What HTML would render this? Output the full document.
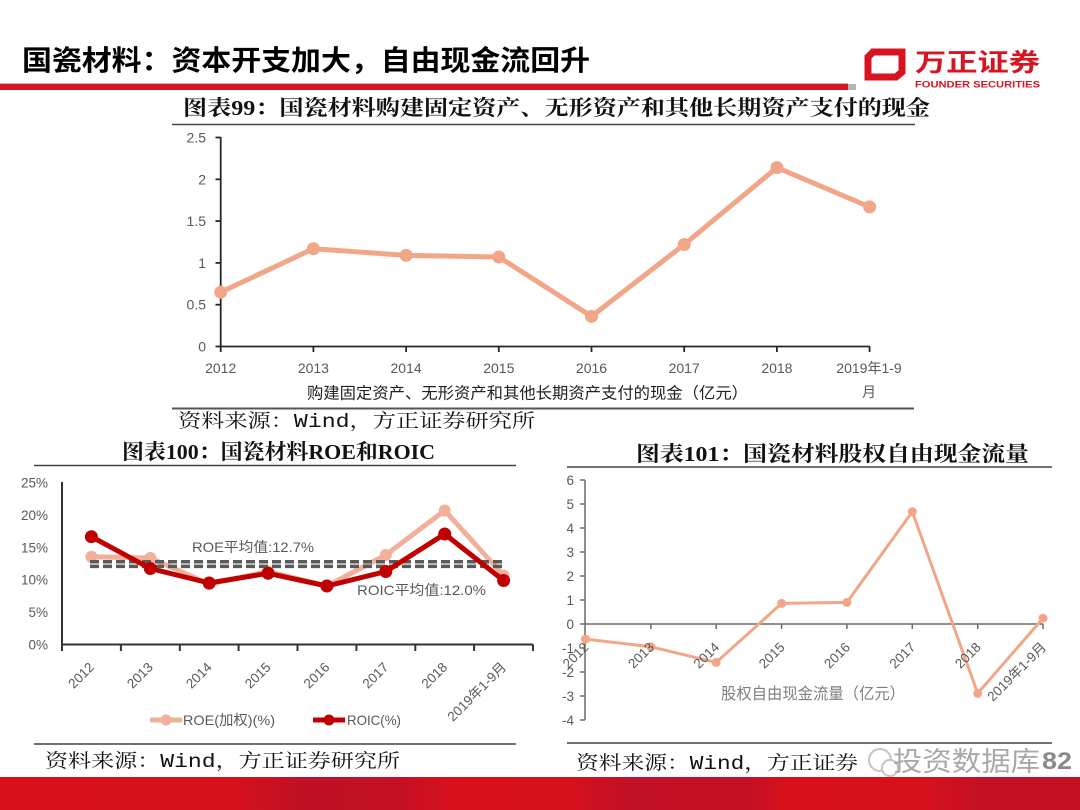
<!DOCTYPE html>
<html><head><meta charset="utf-8">
<style>
html,body{margin:0;padding:0;background:#fff;}
svg{display:block;}
.s{font-family:"Liberation Sans","Noto Sans CJK SC",sans-serif;}
.t{font-family:"Liberation Serif","Noto Serif CJK SC",serif;font-weight:700;}
.src{font-family:"Liberation Mono","Noto Serif CJK SC",serif;}
</style></head>
<body>
<svg width="1080" height="810" viewBox="0 0 1080 810" xmlns="http://www.w3.org/2000/svg">
<defs>
<linearGradient id="rb" x1="0" y1="0" x2="1" y2="0">
<stop offset="0" stop-color="#D9111B"/>
<stop offset="0.22" stop-color="#D5111C"/>
<stop offset="0.28" stop-color="#BF1025"/>
<stop offset="0.37" stop-color="#C41024"/>
<stop offset="0.42" stop-color="#D9111B"/>
<stop offset="0.53" stop-color="#D6111C"/>
<stop offset="0.58" stop-color="#C21026"/>
<stop offset="0.69" stop-color="#C41024"/>
<stop offset="0.73" stop-color="#D8111B"/>
<stop offset="0.86" stop-color="#D6111C"/>
<stop offset="0.91" stop-color="#C31025"/>
<stop offset="1" stop-color="#C51024"/>
</linearGradient>
</defs>
<rect width="1080" height="810" fill="#fff"/>

<!-- Header -->
<text class="s" x="22" y="70" font-size="28" font-weight="700" fill="#000" textLength="568" lengthAdjust="spacingAndGlyphs">国瓷材料：资本开支加大，自由现金流回升</text>
<rect x="0" y="84" width="848" height="6" fill="#D7141F"/>
<rect x="0" y="83" width="848" height="1" fill="#bbb"/>
<rect x="848" y="84" width="8" height="6" fill="#b5b5b5"/>
<!-- Logo -->
<path d="M873,52 L902,52 L902,72 L896,77 L868,77 L868,57 Z" fill="none" stroke="#D7141F" stroke-width="7" stroke-linejoin="miter"/>
<text class="s" x="915" y="71" font-size="25" font-weight="700" fill="#D7141F" textLength="125" lengthAdjust="spacingAndGlyphs">万正证券</text>
<text class="s" x="915" y="87.5" font-size="9.5" font-weight="700" fill="#D7141F" textLength="125" lengthAdjust="spacingAndGlyphs">FOUNDER SECURITIES</text>

<!-- Top chart -->
<text class="t" x="183" y="115" font-size="21" fill="#111" textLength="747" lengthAdjust="spacingAndGlyphs">图表99：国瓷材料购建固定资产、无形资产和其他长期资产支付的现金</text>
<line x1="172" y1="124.5" x2="915" y2="124.5" stroke="#444" stroke-width="1.5"/>
<g stroke="#262626" stroke-width="1.8">
<line x1="220.7" y1="137" x2="220.7" y2="346.5"/>
<line x1="220.7" y1="346.5" x2="870" y2="346.5"/>
<line x1="215.5" y1="346.5" x2="220.7" y2="346.5"/>
<line x1="215.5" y1="304.7" x2="220.7" y2="304.7"/>
<line x1="215.5" y1="262.9" x2="220.7" y2="262.9"/>
<line x1="215.5" y1="221.1" x2="220.7" y2="221.1"/>
<line x1="215.5" y1="179.3" x2="220.7" y2="179.3"/>
<line x1="215.5" y1="137.5" x2="220.7" y2="137.5"/>
<line x1="220.7" y1="346.5" x2="220.7" y2="352"/>
<line x1="313.4" y1="346.5" x2="313.4" y2="352"/>
<line x1="406.1" y1="346.5" x2="406.1" y2="352"/>
<line x1="498.8" y1="346.5" x2="498.8" y2="352"/>
<line x1="591.5" y1="346.5" x2="591.5" y2="352"/>
<line x1="684.2" y1="346.5" x2="684.2" y2="352"/>
<line x1="776.9" y1="346.5" x2="776.9" y2="352"/>
<line x1="869.6" y1="346.5" x2="869.6" y2="352"/>
</g>
<g class="s" font-size="14" fill="#595959" text-anchor="end">
<text x="206" y="351.5">0</text>
<text x="206" y="309.7">0.5</text>
<text x="206" y="267.9">1</text>
<text x="206" y="226.1">1.5</text>
<text x="206" y="184.3">2</text>
<text x="206" y="142.5">2.5</text>
</g>
<g class="s" font-size="14" fill="#595959" text-anchor="middle">
<text x="220.7" y="373">2012</text>
<text x="313.4" y="373">2013</text>
<text x="406.1" y="373">2014</text>
<text x="498.8" y="373">2015</text>
<text x="591.5" y="373">2016</text>
<text x="684.2" y="373">2017</text>
<text x="776.9" y="373">2018</text>
<text x="869" y="373">2019年1-9</text>
<text x="869" y="397">月</text>
</g>
<polyline points="220.7,292.2 313.4,248.7 406.1,255.4 498.8,257 591.5,316.4 684.2,244.5 776.9,167.6 869.6,206.9" fill="none" stroke="#F2A688" stroke-width="5" stroke-linejoin="round"/>
<g fill="#F2A688">
<circle cx="220.7" cy="292.2" r="6.5"/><circle cx="313.4" cy="248.7" r="6.5"/><circle cx="406.1" cy="255.4" r="6.5"/><circle cx="498.8" cy="257" r="6.5"/><circle cx="591.5" cy="316.4" r="6.5"/><circle cx="684.2" cy="244.5" r="6.5"/><circle cx="776.9" cy="167.6" r="6.5"/><circle cx="869.6" cy="206.9" r="6.5"/>
</g>
<text class="s" x="307" y="398.5" font-size="16" fill="#222" textLength="441" lengthAdjust="spacingAndGlyphs">购建固定资产、无形资产和其他长期资产支付的现金（亿元）</text>
<line x1="172" y1="408.5" x2="914" y2="408.5" stroke="#555" stroke-width="2"/>
<text class="src" x="178" y="427" font-size="19" fill="#111" textLength="357" lengthAdjust="spacingAndGlyphs">资料来源：Wind，方正证券研究所</text>

<!-- Bottom-left chart -->
<text class="t" x="122" y="459" font-size="21" fill="#111" textLength="313" lengthAdjust="spacingAndGlyphs">图表100：国瓷材料ROE和ROIC</text>
<line x1="34" y1="465.5" x2="516" y2="465.5" stroke="#444" stroke-width="1.5"/>
<g stroke="#333" stroke-width="2">
<line x1="62" y1="482" x2="62" y2="644.5"/>
<line x1="62" y1="644.5" x2="533" y2="644.5"/>
<line x1="62" y1="644.5" x2="62" y2="651"/>
<line x1="120.9" y1="644.5" x2="120.9" y2="651"/>
<line x1="179.8" y1="644.5" x2="179.8" y2="651"/>
<line x1="238.6" y1="644.5" x2="238.6" y2="651"/>
<line x1="297.5" y1="644.5" x2="297.5" y2="651"/>
<line x1="356.4" y1="644.5" x2="356.4" y2="651"/>
<line x1="415.3" y1="644.5" x2="415.3" y2="651"/>
<line x1="474.1" y1="644.5" x2="474.1" y2="651"/>
<line x1="533" y1="644.5" x2="533" y2="651"/>
</g>
<g class="s" font-size="13.5" fill="#595959" text-anchor="end">
<text x="48" y="649.5">0%</text>
<text x="48" y="617.1">5%</text>
<text x="48" y="584.7">10%</text>
<text x="48" y="552.3">15%</text>
<text x="48" y="519.9">20%</text>
<text x="48" y="487.5">25%</text>
</g>
<g class="s" font-size="13.5" fill="#595959" text-anchor="end">
<text transform="translate(95,668) rotate(-45)">2012</text>
<text transform="translate(153.8,668) rotate(-45)">2013</text>
<text transform="translate(212.7,668) rotate(-45)">2014</text>
<text transform="translate(271.6,668) rotate(-45)">2015</text>
<text transform="translate(330.4,668) rotate(-45)">2016</text>
<text transform="translate(389.3,668) rotate(-45)">2017</text>
<text transform="translate(448.2,668) rotate(-45)">2018</text>
<text transform="translate(507.1,668) rotate(-45)">2019年1-9月</text>
</g>
<polyline points="91.4,556.7 150.3,558 209.2,584 268.1,571.5 326.9,586 385.8,555 444.7,510.5 503.6,575.5" fill="none" stroke="#F2B09A" stroke-width="5" stroke-linejoin="round"/>
<g fill="#F2B09A">
<circle cx="91.4" cy="556.7" r="6"/><circle cx="150.3" cy="558" r="6"/><circle cx="209.2" cy="584" r="6"/><circle cx="268.1" cy="571.5" r="6"/><circle cx="326.9" cy="586" r="6"/><circle cx="385.8" cy="555" r="6"/><circle cx="444.7" cy="510.5" r="6"/><circle cx="503.6" cy="575.5" r="6"/>
</g>
<g stroke="#5a5a5a" stroke-width="3.5" stroke-dasharray="9 4">
<line x1="90" y1="561.7" x2="503" y2="561.7"/>
<line x1="90" y1="566.4" x2="503" y2="566.4"/>
</g>
<polyline points="91.4,536.7 150.3,568.5 209.2,583 268.1,573.3 326.9,586 385.8,571.5 444.7,534 503.6,580.5" fill="none" stroke="#C00000" stroke-width="5" stroke-linejoin="round"/>
<g fill="#C00000">
<circle cx="91.4" cy="536.7" r="6.5"/><circle cx="150.3" cy="568.5" r="6.5"/><circle cx="209.2" cy="583" r="6.5"/><circle cx="268.1" cy="573.3" r="6.5"/><circle cx="326.9" cy="586" r="6.5"/><circle cx="385.8" cy="571.5" r="6.5"/><circle cx="444.7" cy="534" r="6.5"/><circle cx="503.6" cy="580.5" r="6.5"/>
</g>
<text class="s" x="192" y="552" font-size="14" fill="#595959" textLength="122" lengthAdjust="spacingAndGlyphs">ROE平均值:12.7%</text>
<text class="s" x="357" y="595" font-size="14" fill="#595959" textLength="129" lengthAdjust="spacingAndGlyphs">ROIC平均值:12.0%</text>
<!-- legend -->
<line x1="150" y1="720" x2="182" y2="720" stroke="#F2B09A" stroke-width="5"/>
<circle cx="166" cy="720" r="5.5" fill="#F2B09A"/>
<text class="s" x="183" y="725" font-size="14" fill="#595959" textLength="92" lengthAdjust="spacingAndGlyphs">ROE(加权)(%)</text>
<line x1="313" y1="720" x2="345" y2="720" stroke="#C00000" stroke-width="5"/>
<circle cx="329" cy="720" r="5.5" fill="#C00000"/>
<text class="s" x="347" y="725" font-size="14" fill="#595959" textLength="54" lengthAdjust="spacingAndGlyphs">ROIC(%)</text>
<line x1="34" y1="744" x2="516" y2="744" stroke="#444" stroke-width="1.5"/>
<text class="src" x="45" y="767" font-size="19" fill="#111" textLength="355" lengthAdjust="spacingAndGlyphs">资料来源：Wind，方正证券研究所</text>

<!-- Bottom-right chart -->
<text class="t" x="636" y="461" font-size="21" fill="#111" textLength="393" lengthAdjust="spacingAndGlyphs">图表101：国瓷材料股权自由现金流量</text>
<line x1="567" y1="467" x2="1052" y2="467" stroke="#444" stroke-width="1.5"/>
<g stroke="#6a6a6a" stroke-width="1.5">
<line x1="585" y1="480" x2="585" y2="720"/>
<line x1="585" y1="624" x2="1043" y2="624"/>
<line x1="580" y1="480" x2="585" y2="480"/>
<line x1="580" y1="504" x2="585" y2="504"/>
<line x1="580" y1="528" x2="585" y2="528"/>
<line x1="580" y1="552" x2="585" y2="552"/>
<line x1="580" y1="576" x2="585" y2="576"/>
<line x1="580" y1="600" x2="585" y2="600"/>
<line x1="580" y1="624" x2="585" y2="624"/>
<line x1="580" y1="648" x2="585" y2="648"/>
<line x1="580" y1="672" x2="585" y2="672"/>
<line x1="580" y1="696" x2="585" y2="696"/>
<line x1="580" y1="720" x2="585" y2="720"/>
<line x1="650.9" y1="624" x2="650.9" y2="629"/>
<line x1="716.2" y1="624" x2="716.2" y2="629"/>
<line x1="781.6" y1="624" x2="781.6" y2="629"/>
<line x1="846.9" y1="624" x2="846.9" y2="629"/>
<line x1="912.3" y1="624" x2="912.3" y2="629"/>
<line x1="977.7" y1="624" x2="977.7" y2="629"/>
<line x1="1043" y1="624" x2="1043" y2="629"/>
</g>
<g class="s" font-size="13.5" fill="#595959" text-anchor="end">
<text x="574" y="485">6</text>
<text x="574" y="509">5</text>
<text x="574" y="533">4</text>
<text x="574" y="557">3</text>
<text x="574" y="581">2</text>
<text x="574" y="605">1</text>
<text x="574" y="629">0</text>
<text x="574" y="653">-1</text>
<text x="574" y="677">-2</text>
<text x="574" y="701">-3</text>
<text x="574" y="725">-4</text>
</g>
<polyline points="585.5,639.1 650.9,646.8 716.2,662.4 781.6,603.4 846.9,602.4 912.3,511.7 977.7,693.4 1043,618.2" fill="none" stroke="#F2A688" stroke-width="3" stroke-linejoin="round"/>
<g fill="#F2A688">
<circle cx="585.5" cy="639.1" r="4.5"/><circle cx="650.9" cy="646.8" r="4.5"/><circle cx="716.2" cy="662.4" r="4.5"/><circle cx="781.6" cy="603.4" r="4.5"/><circle cx="846.9" cy="602.4" r="4.5"/><circle cx="912.3" cy="511.7" r="4.5"/><circle cx="977.7" cy="693.4" r="4.5"/><circle cx="1043" cy="618.2" r="4.5"/>
</g>
<g class="s" font-size="13.5" fill="#595959" text-anchor="end">
<text transform="translate(589.5,648) rotate(-45)">2012</text>
<text transform="translate(654.9,648) rotate(-45)">2013</text>
<text transform="translate(720.2,648) rotate(-45)">2014</text>
<text transform="translate(785.6,648) rotate(-45)">2015</text>
<text transform="translate(850.9,648) rotate(-45)">2016</text>
<text transform="translate(916.3,648) rotate(-45)">2017</text>
<text transform="translate(981.7,648) rotate(-45)">2018</text>
<text transform="translate(1047,648) rotate(-45)">2019年1-9月</text>
</g>
<text class="s" x="721" y="699" font-size="16" fill="#7f7f7f" textLength="184" lengthAdjust="spacingAndGlyphs">股权自由现金流量（亿元）</text>
<line x1="567" y1="743" x2="1052" y2="743" stroke="#444" stroke-width="1.5"/>
<text class="src" x="576" y="769" font-size="19" fill="#111" textLength="282" lengthAdjust="spacingAndGlyphs">资料来源：Wind，方正证券</text>
<!-- watermark -->
<circle cx="880" cy="760" r="11" fill="none" stroke="#c4c4c4" stroke-width="2"/>
<circle cx="890" cy="768" r="8" fill="#fff" stroke="#c4c4c4" stroke-width="2"/>
<text class="s" x="893" y="771" font-size="27" fill="#a8a8a8" textLength="147" lengthAdjust="spacingAndGlyphs">投资数据库</text>
<text class="s" x="1042" y="769" font-size="24" font-weight="700" fill="#8a8a8a" textLength="30" lengthAdjust="spacingAndGlyphs">82</text>

<!-- footer bar -->
<rect x="0" y="777" width="1080" height="33" fill="url(#rb)"/>
</svg>
</body></html>
